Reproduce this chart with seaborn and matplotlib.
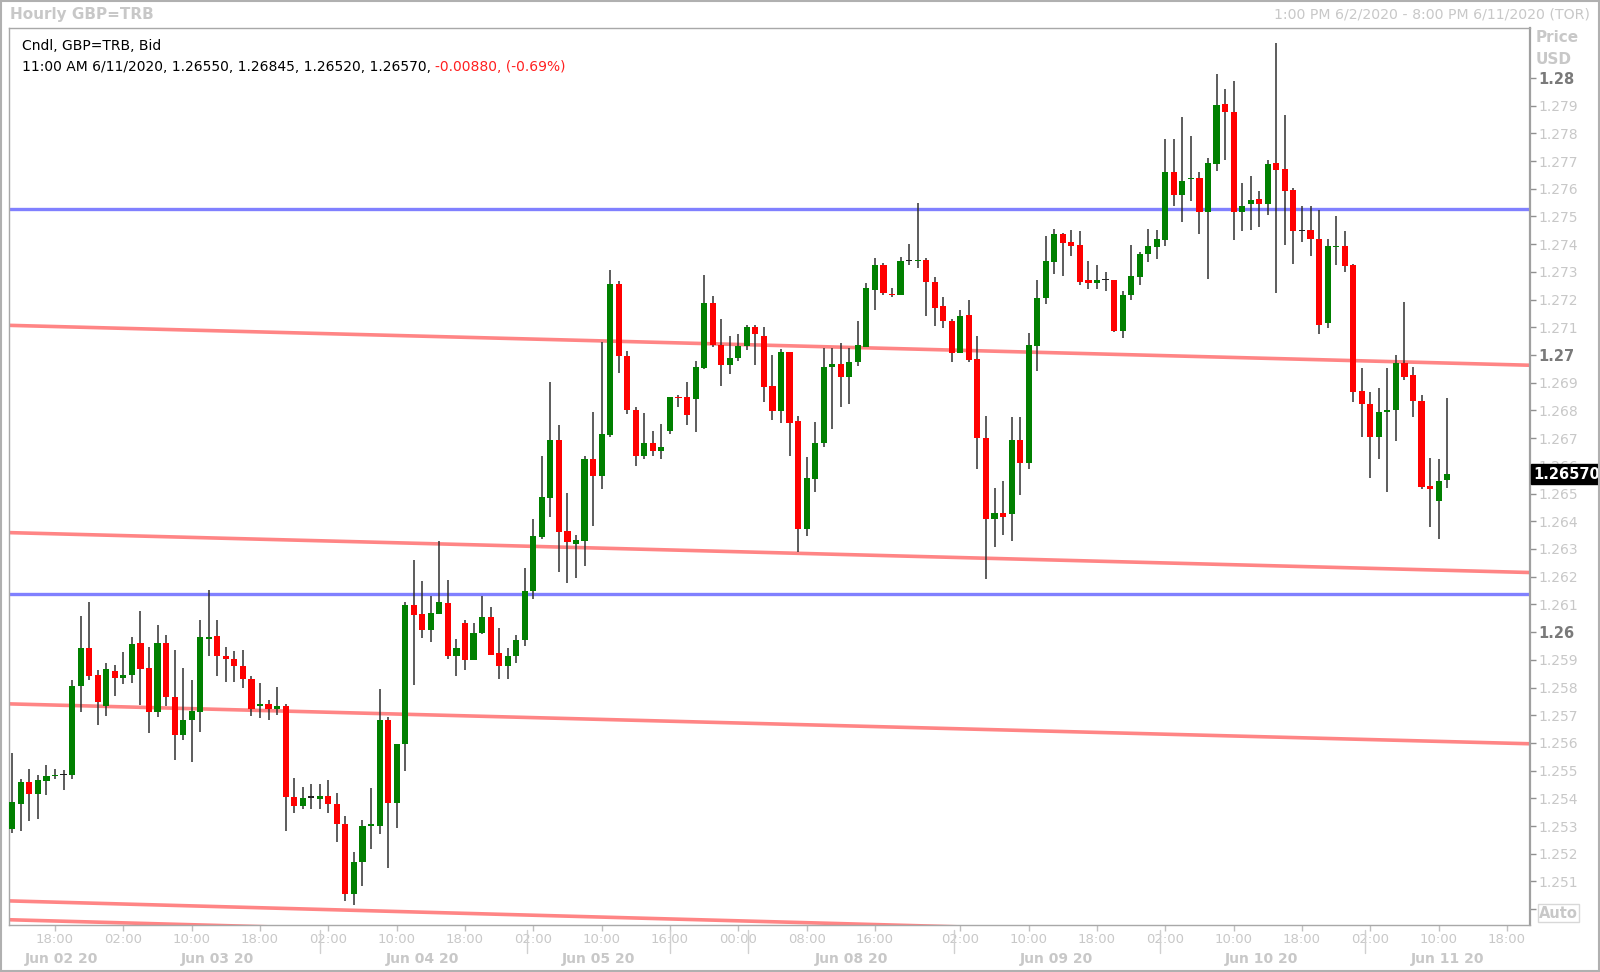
"""
Hourly GBP candlestick chart with support/resistance levels.
"""
import matplotlib
matplotlib.use("Agg")
import matplotlib.pyplot as plt
import matplotlib.transforms as mtransforms
import numpy as np
import seaborn as sns

sns.set_theme(style="white")
plt.rcParams['font.family'] = ['DejaVu Sans']

# hourly candles, 1:00 PM 6/2/2020 .. 11:00 AM 6/11/2020
opens = [1.25291, 1.25379, 1.25459, 1.25414, 1.25462, 1.25480, 1.25485, 1.25484, 1.25805, 1.25942,
         1.25846, 1.25735, 1.25860, 1.25834, 1.25844, 1.25961, 1.25870, 1.25710, 1.25960, 1.25767,
         1.25630, 1.25684, 1.25712, 1.25975, 1.25987, 1.25914, 1.25903, 1.25876, 1.25830, 1.25735,
         1.25740, 1.25723, 1.25735, 1.25406, 1.25374, 1.25403, 1.25399, 1.25409, 1.25380, 1.25309,
         1.25055, 1.25172, 1.25299, 1.25300, 1.25682, 1.25382, 1.25595, 1.26097, 1.26065, 1.26009,
         1.26066, 1.26106, 1.25912, 1.26032, 1.25900, 1.25995, 1.26055, 1.25925, 1.25876, 1.25915,
         1.25972, 1.26150, 1.26342, 1.26484, 1.26692, 1.26365, 1.26319, 1.26330, 1.26626, 1.26562,
         1.26712, 1.27255, 1.26997, 1.26802, 1.26634, 1.26681, 1.26655, 1.26724, 1.26848, 1.26847,
         1.26842, 1.26953, 1.27186, 1.27035, 1.26965, 1.26989, 1.27031, 1.27101, 1.27070, 1.26889,
         1.26798, 1.27010, 1.26760, 1.26371, 1.26554, 1.26682, 1.26957, 1.26969, 1.26919, 1.26973,
         1.27030, 1.27233, 1.27326, 1.27219, 1.27217, 1.27340, 1.27338, 1.27343, 1.27265, 1.27176,
         1.27123, 1.27006, 1.27145, 1.26985, 1.26702, 1.26407, 1.26429, 1.26425, 1.26692, 1.26610,
         1.27033, 1.27204, 1.27336, 1.27438, 1.27406, 1.27396, 1.27271, 1.27260, 1.27272, 1.27272,
         1.27088, 1.27216, 1.27280, 1.27364, 1.27390, 1.27416, 1.27660, 1.27579, 1.27635, 1.27640,
         1.27517, 1.27689, 1.27905, 1.27877, 1.27515, 1.27545, 1.27564, 1.27545, 1.27692, 1.27671,
         1.27594, 1.27448, 1.27450, 1.27419, 1.27115, 1.27391, 1.27395, 1.27323, 1.26870, 1.26824,
         1.26703, 1.26794, 1.26800, 1.26971, 1.26926, 1.26835, 1.26528, 1.26474, 1.26550]
highs = [1.25563, 1.25471, 1.25507, 1.25485, 1.25521, 1.25507, 1.25503, 1.25828, 1.26057, 1.26108,
         1.25864, 1.25888, 1.25882, 1.25927, 1.25981, 1.26077, 1.25946, 1.26027, 1.25990, 1.25936,
         1.25870, 1.25826, 1.26042, 1.26153, 1.26042, 1.25946, 1.25933, 1.25936, 1.25842, 1.25815,
         1.25755, 1.25801, 1.25740, 1.25475, 1.25440, 1.25451, 1.25451, 1.25465, 1.25418, 1.25336,
         1.25208, 1.25322, 1.25436, 1.25795, 1.25695, 1.25597, 1.26110, 1.26261, 1.26185, 1.26131,
         1.26327, 1.26188, 1.25975, 1.26044, 1.26032, 1.26131, 1.26090, 1.26014, 1.25944, 1.25990,
         1.26230, 1.26409, 1.26636, 1.26901, 1.26746, 1.26502, 1.26351, 1.26634, 1.26794, 1.27047,
         1.27308, 1.27266, 1.27013, 1.26814, 1.26790, 1.26727, 1.26751, 1.26849, 1.26857, 1.26901,
         1.26979, 1.27290, 1.27212, 1.27131, 1.27067, 1.27077, 1.27107, 1.27109, 1.27100, 1.27000,
         1.27021, 1.27012, 1.26780, 1.26633, 1.26757, 1.27027, 1.27027, 1.27042, 1.27024, 1.27124,
         1.27261, 1.27351, 1.27331, 1.27241, 1.27355, 1.27400, 1.27550, 1.27349, 1.27281, 1.27210,
         1.27130, 1.27163, 1.27199, 1.27070, 1.26780, 1.26519, 1.26547, 1.26778, 1.26778, 1.27079,
         1.27272, 1.27431, 1.27455, 1.27440, 1.27451, 1.27449, 1.27338, 1.27326, 1.27301, 1.27272,
         1.27232, 1.27397, 1.27370, 1.27455, 1.27450, 1.27781, 1.27781, 1.27859, 1.27790, 1.27660,
         1.27711, 1.28014, 1.27960, 1.27990, 1.27620, 1.27647, 1.27590, 1.27702, 1.28126, 1.27867,
         1.27602, 1.27536, 1.27536, 1.27524, 1.27419, 1.27503, 1.27448, 1.27329, 1.26953, 1.26868,
         1.26880, 1.26953, 1.27001, 1.27191, 1.26956, 1.26856, 1.26630, 1.26625, 1.26845]
lows = [1.25274, 1.25283, 1.25317, 1.25325, 1.25413, 1.25471, 1.25429, 1.25470, 1.25710, 1.25828,
        1.25666, 1.25699, 1.25768, 1.25812, 1.25818, 1.25738, 1.25636, 1.25693, 1.25732, 1.25537,
        1.25609, 1.25533, 1.25638, 1.25912, 1.25840, 1.25820, 1.25820, 1.25798, 1.25699, 1.25689,
        1.25683, 1.25701, 1.25283, 1.25348, 1.25360, 1.25360, 1.25360, 1.25348, 1.25241, 1.25030,
        1.25015, 1.25085, 1.25216, 1.25270, 1.25150, 1.25294, 1.25500, 1.25809, 1.25978, 1.25963,
        1.26066, 1.25902, 1.25843, 1.25863, 1.25898, 1.25993, 1.25917, 1.25830, 1.25830, 1.25890,
        1.25950, 1.26120, 1.26337, 1.26414, 1.26216, 1.26177, 1.26195, 1.26239, 1.26384, 1.26517,
        1.26703, 1.26935, 1.26787, 1.26601, 1.26624, 1.26634, 1.26624, 1.26715, 1.26812, 1.26746,
        1.26721, 1.26950, 1.27029, 1.26889, 1.26931, 1.26977, 1.27019, 1.26965, 1.26832, 1.26766,
        1.26754, 1.26637, 1.26288, 1.26348, 1.26506, 1.26667, 1.26734, 1.26811, 1.26822, 1.26962,
        1.27030, 1.27163, 1.27217, 1.27209, 1.27217, 1.27324, 1.27313, 1.27139, 1.27103, 1.27097,
        1.26976, 1.27006, 1.26976, 1.26588, 1.26190, 1.26308, 1.26350, 1.26330, 1.26493, 1.26588,
        1.26943, 1.27184, 1.27293, 1.27284, 1.27358, 1.27251, 1.27238, 1.27238, 1.27232, 1.27083,
        1.27061, 1.27197, 1.27251, 1.27334, 1.27348, 1.27395, 1.27537, 1.27479, 1.27555, 1.27437,
        1.27274, 1.27665, 1.27703, 1.27416, 1.27449, 1.27452, 1.27462, 1.27504, 1.27223, 1.27398,
        1.27328, 1.27407, 1.27359, 1.27077, 1.27099, 1.27326, 1.27299, 1.26830, 1.26703, 1.26555,
        1.26625, 1.26507, 1.26688, 1.26910, 1.26778, 1.26517, 1.26381, 1.26335, 1.26520]
closes = [1.25386, 1.25459, 1.25414, 1.25465, 1.25482, 1.25485, 1.25485, 1.25805, 1.25942, 1.25842,
          1.25747, 1.25868, 1.25834, 1.25846, 1.25957, 1.25868, 1.25710, 1.25960, 1.25765, 1.25630,
          1.25684, 1.25716, 1.25981, 1.25981, 1.25912, 1.25903, 1.25876, 1.25830, 1.25722, 1.25740,
          1.25723, 1.25735, 1.25404, 1.25374, 1.25403, 1.25403, 1.25409, 1.25380, 1.25308, 1.25055,
          1.25172, 1.25300, 1.25306, 1.25682, 1.25382, 1.25595, 1.26097, 1.26063, 1.26009, 1.26069,
          1.26110, 1.25912, 1.25943, 1.25900, 1.25997, 1.26055, 1.25919, 1.25876, 1.25912, 1.25972,
          1.26150, 1.26345, 1.26486, 1.26692, 1.26363, 1.26325, 1.26331, 1.26626, 1.26562, 1.26716,
          1.27255, 1.26995, 1.26800, 1.26634, 1.26681, 1.26654, 1.26668, 1.26849, 1.26843, 1.26784,
          1.26956, 1.27186, 1.27035, 1.26965, 1.26990, 1.27031, 1.27101, 1.27076, 1.26886, 1.26798,
          1.27010, 1.26754, 1.26371, 1.26556, 1.26684, 1.26958, 1.26969, 1.26919, 1.26975, 1.27035,
          1.27241, 1.27326, 1.27224, 1.27215, 1.27340, 1.27340, 1.27342, 1.27263, 1.27170, 1.27122,
          1.27006, 1.27141, 1.26982, 1.26702, 1.26407, 1.26431, 1.26417, 1.26692, 1.26610, 1.27035,
          1.27206, 1.27338, 1.27438, 1.27404, 1.27395, 1.27263, 1.27260, 1.27272, 1.27272, 1.27088,
          1.27218, 1.27286, 1.27364, 1.27392, 1.27420, 1.27660, 1.27579, 1.27629, 1.27640, 1.27517,
          1.27694, 1.27901, 1.27876, 1.27517, 1.27539, 1.27560, 1.27545, 1.27690, 1.27669, 1.27593,
          1.27448, 1.27448, 1.27418, 1.27109, 1.27392, 1.27395, 1.27320, 1.26868, 1.26824, 1.26703,
          1.26794, 1.26802, 1.26971, 1.26922, 1.26833, 1.26523, 1.26517, 1.26547, 1.26570]

# horizontal levels (blue) and sloping channel lines (red): value at left / right edge
blue_levels = [1.27527, 1.26137]
red_left = [1.27107, 1.26359, 1.25741, 1.25030, 1.24962]
red_right = [1.26963, 1.26215, 1.25597, 1.24880, 1.24812]

# time axis (bar index -> label)
hour_ticks = [5, 13, 21, 29, 37, 45, 53, 61, 69, 77, 85, 93, 101, 111, 119, 127, 135, 143, 151, 159, 167, 175]
hour_labels = ['18:00', '02:00', '10:00', '18:00', '02:00', '10:00', '18:00', '02:00', '10:00', '16:00',
               '00:00', '08:00', '16:00', '02:00', '10:00', '18:00', '02:00', '10:00', '18:00', '02:00',
               '10:00', '18:00']
day_pos = [5.8, 24, 48, 68.6, 98.2, 122.3, 146.3, 168]
day_labels = ['Jun 02 20', 'Jun 03 20', 'Jun 04 20', 'Jun 05 20', 'Jun 08 20', 'Jun 09 20', 'Jun 10 20', 'Jun 11 20']
day_breaks = [36, 60.3, 77, 86.1, 110.3, 134.4, 158.4]

price_ticks = [round(1.250 + 0.001 * k, 3) for k in range(31)]
last_price = 1.26570

LIGHT = '#c8c8c8'
x_min, x_max = -0.39, 177.7
y_min, y_max = 1.24943, 1.28180

fig = plt.figure(figsize=(16, 9.72), dpi=100)
fig.patch.set_facecolor('white')
ax = fig.add_axes([9 / 1600, 1 - 925 / 972, (1530 - 9) / 1600, (925 - 28) / 972])
ax.set_facecolor('white')

# channel lines
for l, r in zip(red_left, red_right):
    sns.lineplot(x=[x_min, x_max], y=[l, r], ax=ax, color='#ff8585', linewidth=2.6, zorder=1)
for lvl in blue_levels:
    ax.axhline(lvl, color='#8080ff', linewidth=2.4, zorder=1)

# candles
o = np.array(opens)
c = np.array(closes)
x = np.arange(len(o))
body_low = np.minimum(o, c)
body_h = np.maximum(np.abs(c - o), 0.00004)
colors = np.where(c > o, '#008000', np.where(c < o, '#ff0000', '#202020'))
ax.vlines(x, lows, highs, color='#303030', linewidth=1.1, zorder=2)
ax.bar(x, body_h, bottom=body_low, width=0.72, color=colors, linewidth=0, zorder=3)

ax.set_xlim(x_min, x_max)
ax.set_ylim(y_min, y_max)

# frame
for side in ['left', 'top', 'bottom']:
    ax.spines[side].set_color('#a8a8a8')
    ax.spines[side].set_linewidth(1.0)
ax.spines['right'].set_color('#a0a0a0')
ax.spines['right'].set_linewidth(1.6)
ax.grid(False)

# price axis on the right
ax.yaxis.tick_right()
ax.set_yticks(price_ticks)
ax.set_yticklabels(['' if abs(t - 1.25) < 1e-9 else f'{t:g}' for t in price_ticks])
ax.tick_params(axis='y', direction='out', length=4, width=1, color='#909090',
               labelsize=10, labelcolor=LIGHT, pad=2, right=True, left=False)
for t, lab in zip(price_ticks, ax.get_yticklabels()):
    if abs(t * 100 - round(t * 100)) < 1e-6:
        lab.set_fontweight('bold')
        lab.set_color('#7a7a7a')
        lab.set_fontsize(10.5)

# time axis
ax.set_xticks(hour_ticks)
ax.set_xticklabels(hour_labels)
ax.tick_params(axis='x', direction='out', length=4, width=1, color='#c0c0c0',
               labelsize=9.5, labelcolor=LIGHT, pad=2, bottom=True)
xt = ax.get_xaxis_transform()
for pos, lab in zip(day_pos, day_labels):
    ax.text(pos, -0.038, lab, transform=xt, ha='center', va='center',
            fontsize=10, fontweight='bold', color=LIGHT, clip_on=False)
for b in day_breaks:
    ax.plot([b, b], [-0.006, -0.031], transform=xt, color='#d0d0d0', linewidth=1, clip_on=False)

# last price tag and right-hand labels
yt = mtransforms.blended_transform_factory(ax.transAxes, ax.transData)
ax.text(1.002, last_price, f'{last_price:.5f}', transform=yt, ha='left', va='center',
        fontsize=10.5, fontweight='bold', color='white', clip_on=False, zorder=10,
        bbox=dict(boxstyle='square,pad=0.15', facecolor='black', edgecolor='black'))
ax.text(1.006, 1.24985, 'Auto', transform=yt, ha='left', va='center', fontsize=10.5,
        fontweight='bold', color=LIGHT, clip_on=False,
        bbox=dict(boxstyle='square,pad=0.1', facecolor='white', edgecolor='#d8d8d8'))
fig.text(1536 / 1600, 1 - 38 / 972, 'Price', ha='left', va='center', fontsize=11,
         fontweight='bold', color=LIGHT)
fig.text(1536 / 1600, 1 - 59 / 972, 'USD', ha='left', va='center', fontsize=11,
         fontweight='bold', color=LIGHT)

# header
fig.text(10 / 1600, 1 - 15 / 972, 'Hourly GBP=TRB', ha='left', va='center', fontsize=11,
         fontweight='bold', color=LIGHT)
fig.text(1590 / 1600, 1 - 15 / 972, '1:00 PM 6/2/2020 - 8:00 PM 6/11/2020 (TOR)', ha='right',
         va='center', fontsize=10.2, color=LIGHT)

# legend lines inside the plot
ax.text(13 / 1521, 1 - 18 / 897, 'Cndl, GBP=TRB, Bid', transform=ax.transAxes,
        ha='left', va='center', fontsize=10, color='black')
info = ax.text(13 / 1521, 1 - 39 / 897, '11:00 AM 6/11/2020, 1.26550, 1.26845, 1.26520, 1.26570, ',
               transform=ax.transAxes, ha='left', va='center', fontsize=10, color='black')
ax.annotate('-0.00880, (-0.69%)', xy=(1, 0.5), xycoords=info, ha='left', va='center',
            fontsize=10, color='#ff2020')

# outer frame of the whole picture
fig.add_artist(plt.Rectangle((0.0005, 0.001), 0.999, 0.998, transform=fig.transFigure,
                             fill=False, edgecolor='#b0b0b0', linewidth=1.5))

fig.savefig('out.png', dpi=100)
